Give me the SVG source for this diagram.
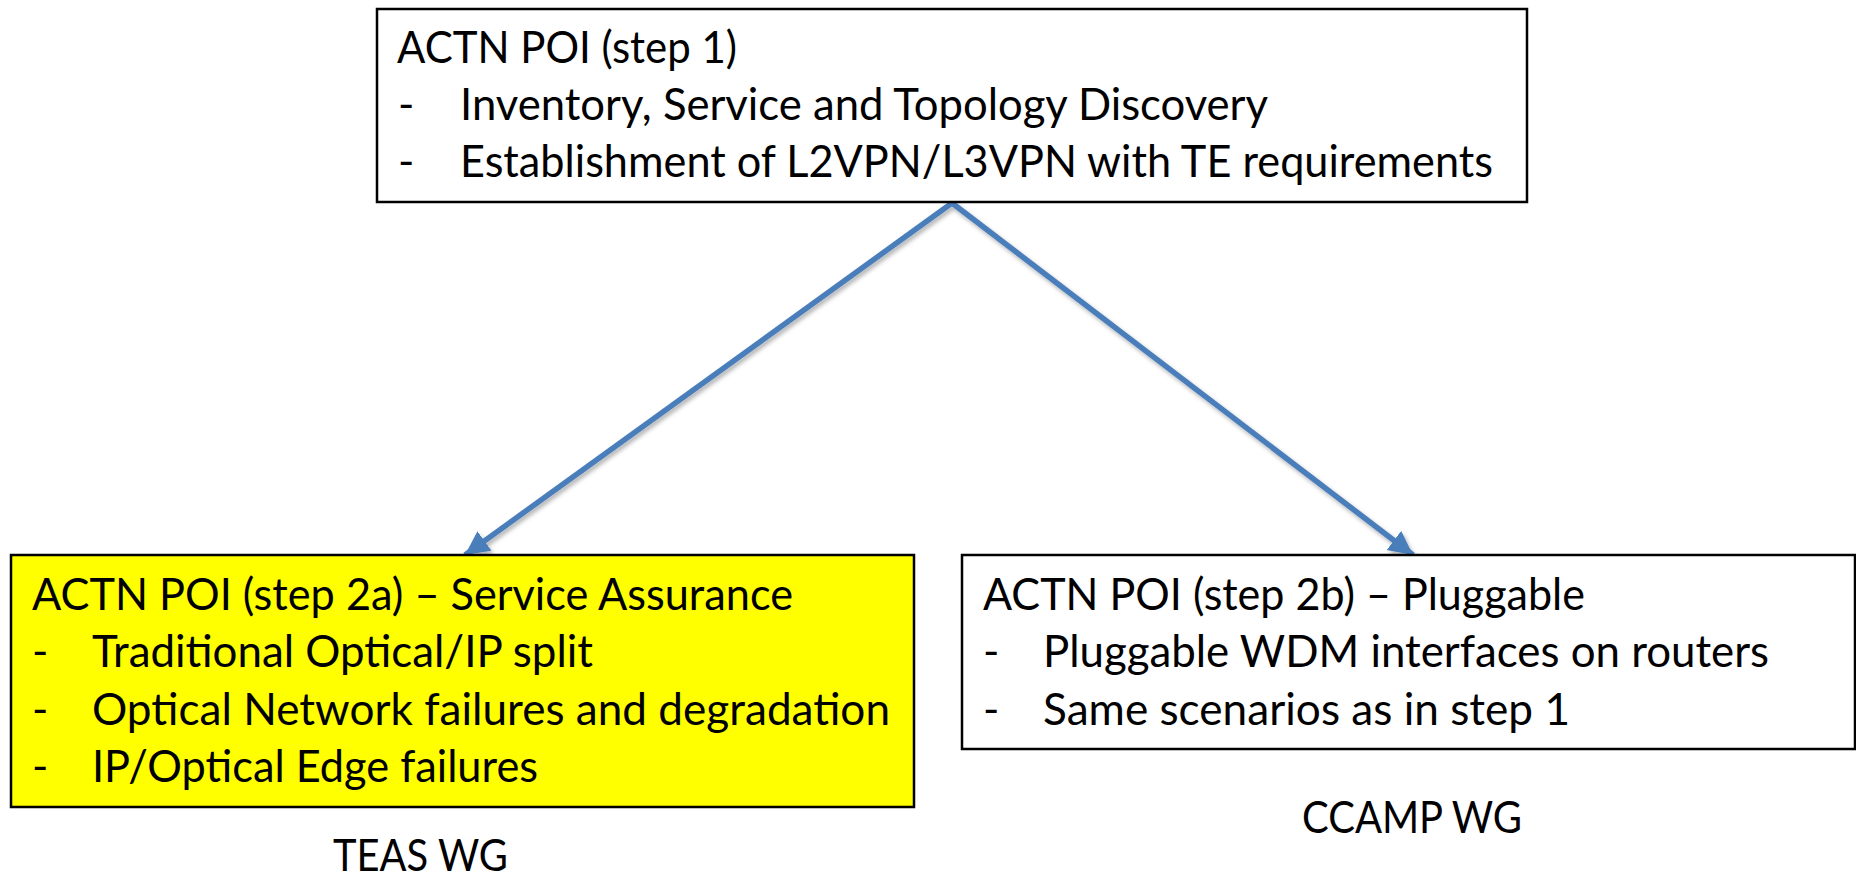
<svg xmlns="http://www.w3.org/2000/svg" width="1856" height="883" viewBox="0 0 1856 883">
<style>
.box{stroke:#000;stroke-width:2.5}
.t{font-family:Lato,"Open Sans","Liberation Sans",sans-serif;font-size:44px;fill:#000}
.conn{stroke:#4A7EBB;stroke-width:5.5;fill:none}
</style>
<defs>
<marker id="ah" markerUnits="userSpaceOnUse" markerWidth="28" markerHeight="26" refX="24" refY="12" orient="auto">
<path d="M0,0 L24,12 L0,24 Z" fill="#4A7EBB"/>
</marker>
<filter id="sh" x="-10%" y="-10%" width="120%" height="120%">
<feDropShadow dx="2" dy="3" stdDeviation="2" flood-color="#000" flood-opacity="0.3"/>
</filter>
</defs>
<rect width="1856" height="883" fill="#fff"/>
<g id="connectors" filter="url(#sh)">
<line class="conn" x1="952" y1="203" x2="465" y2="555" marker-end="url(#ah)"/>
<line class="conn" x1="952" y1="203" x2="1413" y2="555" marker-end="url(#ah)"/>
</g>
<g id="step1">
<rect class="box" x="377" y="9" width="1150" height="193" fill="#fff"/>
<text class="t" x="397" y="63" textLength="340" lengthAdjust="spacingAndGlyphs">ACTN POI (step 1)</text>
<text class="t" x="398" y="120">-</text>
<text class="t" x="460" y="120" textLength="808" lengthAdjust="spacingAndGlyphs">Inventory, Service and Topology Discovery</text>
<text class="t" x="398" y="177">-</text>
<text class="t" x="460" y="177" textLength="1033" lengthAdjust="spacingAndGlyphs">Establishment of L2VPN/L3VPN with TE requirements</text>
</g>
<g id="step2a">
<rect class="box" x="11" y="555" width="903" height="252" fill="#FFFF00"/>
<text class="t" x="32" y="610" textLength="761" lengthAdjust="spacingAndGlyphs">ACTN POI (step 2a) – Service Assurance</text>
<text class="t" x="32" y="667">-</text>
<text class="t" x="92" y="667" textLength="501" lengthAdjust="spacingAndGlyphs">Traditional Optical/IP split</text>
<text class="t" x="32" y="725">-</text>
<text class="t" x="92" y="725" textLength="798" lengthAdjust="spacingAndGlyphs">Optical Network failures and degradation</text>
<text class="t" x="32" y="782">-</text>
<text class="t" x="92" y="782" textLength="446" lengthAdjust="spacingAndGlyphs">IP/Optical Edge failures</text>
</g>
<g id="step2b">
<rect class="box" x="962" y="555" width="893" height="194" fill="#fff"/>
<text class="t" x="983" y="610" textLength="602" lengthAdjust="spacingAndGlyphs">ACTN POI (step 2b) – Pluggable</text>
<text class="t" x="983" y="667">-</text>
<text class="t" x="1043" y="667" textLength="726" lengthAdjust="spacingAndGlyphs">Pluggable WDM interfaces on routers</text>
<text class="t" x="983" y="725">-</text>
<text class="t" x="1043" y="725" textLength="527" lengthAdjust="spacingAndGlyphs">Same scenarios as in step 1</text>
</g>
<g id="teas">
<text class="t" x="333" y="871" textLength="175" lengthAdjust="spacingAndGlyphs">TEAS WG</text>
</g>
<g id="ccamp">
<text class="t" x="1302" y="833" textLength="220" lengthAdjust="spacingAndGlyphs">CCAMP WG</text>
</g>
</svg>
